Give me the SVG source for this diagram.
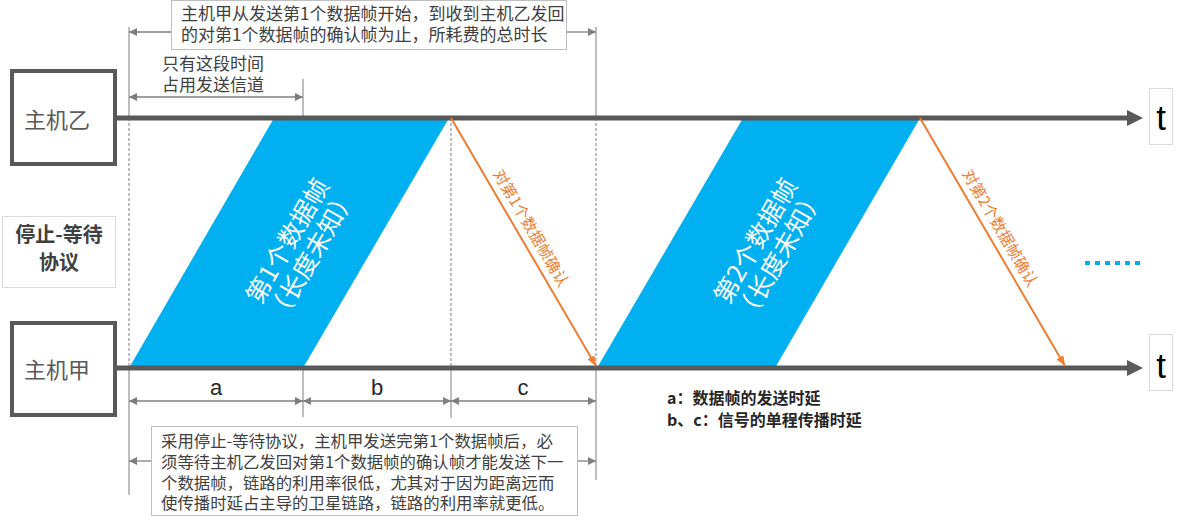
<svg xmlns="http://www.w3.org/2000/svg" width="1192" height="521" viewBox="0 0 1192 521">
  <style>
    .txt { font-family: "Noto Sans CJK SC", "Liberation Sans", sans-serif; }
    .lat { font-family: "Liberation Sans", "Noto Sans CJK SC", sans-serif; }
    .hostbox { fill: #fff; stroke: #595959; stroke-width: 4; }
    .hostlabel { font-size: 22px; fill: #595959; text-anchor: middle; }
    .timeline { stroke: #595959; stroke-width: 5; }
    .tarrow { fill: #595959; }
    .tbox { fill: #fff; stroke: #d9d9d9; stroke-width: 1; }
    .tlabel { font-size: 35px; fill: #000; text-anchor: middle; }
    .frame { fill: #00b0f0; }
    .frametext { font-size: 25px; fill: #fff; text-anchor: middle; }
    .ack { stroke: #ed7d31; stroke-width: 2; fill: none; }
    .acktext { font-size: 15.5px; fill: #ed7d31; text-anchor: middle; }
    .ext { stroke: #7f7f7f; stroke-width: 1; fill: none; }
    .extd { stroke: #7f7f7f; stroke-width: 1; fill: none; stroke-dasharray: 3 2; }
    .dim { stroke: #7f7f7f; stroke-width: 1.3; fill: none; }
    .note { fill: #fff; stroke: #bfbfbf; stroke-width: 1; }
    .notetext { font-size: 17px; fill: #404040; }
    .bnotetext { font-size: 16.4px; fill: #404040; }
    .dimlabel { font-size: 22px; fill: #262626; text-anchor: middle; }
    .legend { font-size: 16px; fill: #262626; font-weight: bold; }
  </style>
  <defs>
    <marker id="dimArrow" viewBox="0 0 8 8" refX="8" refY="4" markerWidth="8" markerHeight="8" markerUnits="userSpaceOnUse" orient="auto-start-reverse">
      <path d="M0,0 L8,4 L0,8 z" fill="#7f7f7f"/>
    </marker>
    <marker id="ackArrow" viewBox="0 0 10 8" refX="10" refY="4" markerWidth="10" markerHeight="8" markerUnits="userSpaceOnUse" orient="auto">
      <path d="M0,0 L10,4 L0,8 z" fill="#ed7d31"/>
    </marker>
  </defs>

  <rect width="1192" height="521" fill="#fff"/>

  <!-- extension / guide lines -->
  <g id="guides">
    <line class="ext" x1="129" y1="27" x2="129" y2="118"/>
    <line class="extd" x1="129" y1="118" x2="129" y2="368"/>
    <line class="ext" x1="129" y1="368" x2="129" y2="495"/>
    <line class="ext" x1="303" y1="79" x2="303" y2="118"/>
    <line class="extd" x1="303" y1="118" x2="303" y2="368"/>
    <line class="ext" x1="303" y1="368" x2="303" y2="417"/>
    <line class="extd" x1="451" y1="118" x2="451" y2="368"/>
    <line class="ext" x1="451" y1="368" x2="451" y2="418"/>
    <line class="ext" x1="596" y1="27" x2="596" y2="118"/>
    <line class="extd" x1="596" y1="118" x2="596" y2="368"/>
    <line class="ext" x1="596" y1="368" x2="596" y2="480"/>
  </g>

  <!-- data frames -->
  <g id="frame1">
    <polygon class="frame" points="129,368 303,368 449,118 274,118"/>
    <g transform="rotate(-60 300 248)">
      <text class="txt frametext" x="300" y="242.5">第1个数据帧</text>
      <text class="txt frametext" x="300" y="270.5">（长度未知）</text>
    </g>
  </g>
  <g id="frame2">
    <polygon class="frame" points="597,368 775,368 920,118 743,118"/>
    <g transform="rotate(-60 768 248)">
      <text class="txt frametext" x="768" y="242.5">第2个数据帧</text>
      <text class="txt frametext" x="768" y="270.5">（长度未知）</text>
    </g>
  </g>

  <!-- timelines -->
  <g id="timelines">
    <line class="timeline" x1="117" y1="118" x2="1130" y2="118"/>
    <polygon class="tarrow" points="1127,110 1143,118 1127,126"/>
    <line class="timeline" x1="117" y1="368" x2="1130" y2="368"/>
    <polygon class="tarrow" points="1127,360 1143,368 1127,376"/>
  </g>

  <!-- connectors: acknowledgements and dimension arrows -->
  <g id="connectors">
    <line class="ack" x1="451" y1="118" x2="596" y2="366" marker-end="url(#ackArrow)"/>
    <line class="ack" x1="920" y1="118" x2="1065" y2="366" marker-end="url(#ackArrow)"/>
    <line class="dim" x1="171" y1="32" x2="129" y2="32" marker-end="url(#dimArrow)"/>
    <line class="dim" x1="567" y1="32" x2="596" y2="32" marker-end="url(#dimArrow)"/>
    <line class="dim" x1="129" y1="97" x2="303" y2="97" marker-start="url(#dimArrow)" marker-end="url(#dimArrow)"/>
    <line class="dim" x1="129" y1="401" x2="303" y2="401" marker-start="url(#dimArrow)" marker-end="url(#dimArrow)"/>
    <line class="dim" x1="303" y1="401" x2="451" y2="401" marker-start="url(#dimArrow)" marker-end="url(#dimArrow)"/>
    <line class="dim" x1="451" y1="401" x2="596" y2="401" marker-start="url(#dimArrow)" marker-end="url(#dimArrow)"/>
    <line class="dim" x1="151" y1="461" x2="129" y2="461" marker-end="url(#dimArrow)"/>
    <line class="dim" x1="578" y1="461" x2="596" y2="461" marker-end="url(#dimArrow)"/>
  </g>

  <g id="ack1-label">
    <text class="txt acktext" x="531" y="233.5" transform="rotate(59.7 531 228)">对第1个数据帧确认</text>
  </g>
  <g id="ack2-label">
    <text class="txt acktext" x="1000" y="233.5" transform="rotate(59.7 1000 228)">对第2个数据帧确认</text>
  </g>

  <!-- hosts -->
  <g id="host-b">
    <rect class="hostbox" x="12" y="71" width="103" height="93"/>
    <text class="txt hostlabel" x="57" y="128">主机乙</text>
  </g>
  <g id="host-a">
    <rect class="hostbox" x="12" y="323" width="103" height="92"/>
    <text class="txt hostlabel" x="57" y="378">主机甲</text>
  </g>

  <g id="protocol">
    <rect x="2.5" y="216.5" width="113" height="71" fill="#fff" stroke="#d9d9d9" stroke-width="1"/>
    <text class="txt" x="59" y="242" font-size="20" font-weight="bold" fill="#404040" text-anchor="middle">停止-等待</text>
    <text class="txt" x="59" y="270" font-size="20" font-weight="bold" fill="#404040" text-anchor="middle">协议</text>
  </g>

  <g id="t-upper">
    <rect class="tbox" x="1149.5" y="88.5" width="23" height="56"/>
    <text class="lat tlabel" x="1161" y="130">t</text>
  </g>
  <g id="t-lower">
    <rect class="tbox" x="1149.5" y="334.5" width="23" height="56"/>
    <text class="lat tlabel" x="1161" y="378">t</text>
  </g>

  <g id="ellipsis">
    <line x1="1085" y1="263" x2="1141" y2="263" stroke="#00b0f0" stroke-width="4" stroke-dasharray="5 5"/>
  </g>

  <!-- notes -->
  <g id="note-total">
    <rect class="note" x="171.5" y="0.5" width="395" height="49"/>
    <text class="txt notetext" x="181" y="20">主机甲从发送第1个数据帧开始，到收到主机乙发回</text>
    <text class="txt notetext" x="181" y="41">的对第1个数据帧的确认帧为止，所耗费的总时长</text>
  </g>
  <g id="note-channel">
    <text class="txt notetext" x="162" y="70" font-size="15.5">只有这段时间</text>
    <text class="txt notetext" x="162" y="91" font-size="15.5">占用发送信道</text>
  </g>
  <g id="dim-labels">
    <text class="lat dimlabel" x="216" y="395">a</text>
    <text class="lat dimlabel" x="377" y="395">b</text>
    <text class="lat dimlabel" x="523" y="395">c</text>
  </g>
  <g id="note-bottom">
    <rect class="note" x="151.5" y="426.5" width="426" height="89"/>
    <text class="txt bnotetext" x="161" y="447">采用停止-等待协议，主机甲发送完第1个数据帧后，必</text>
    <text class="txt bnotetext" x="161" y="468">须等待主机乙发回对第1个数据帧的确认帧才能发送下一</text>
    <text class="txt bnotetext" x="161" y="488.5">个数据帧，链路的利用率很低，尤其对于因为距离远而</text>
    <text class="txt bnotetext" x="161" y="509">使传播时延占主导的卫星链路，链路的利用率就更低。</text>
  </g>
  <g id="legend">
    <text class="txt legend" x="667" y="404">a：数据帧的发送时延</text>
    <text class="txt legend" x="667" y="426">b、c：信号的单程传播时延</text>
  </g>
</svg>
